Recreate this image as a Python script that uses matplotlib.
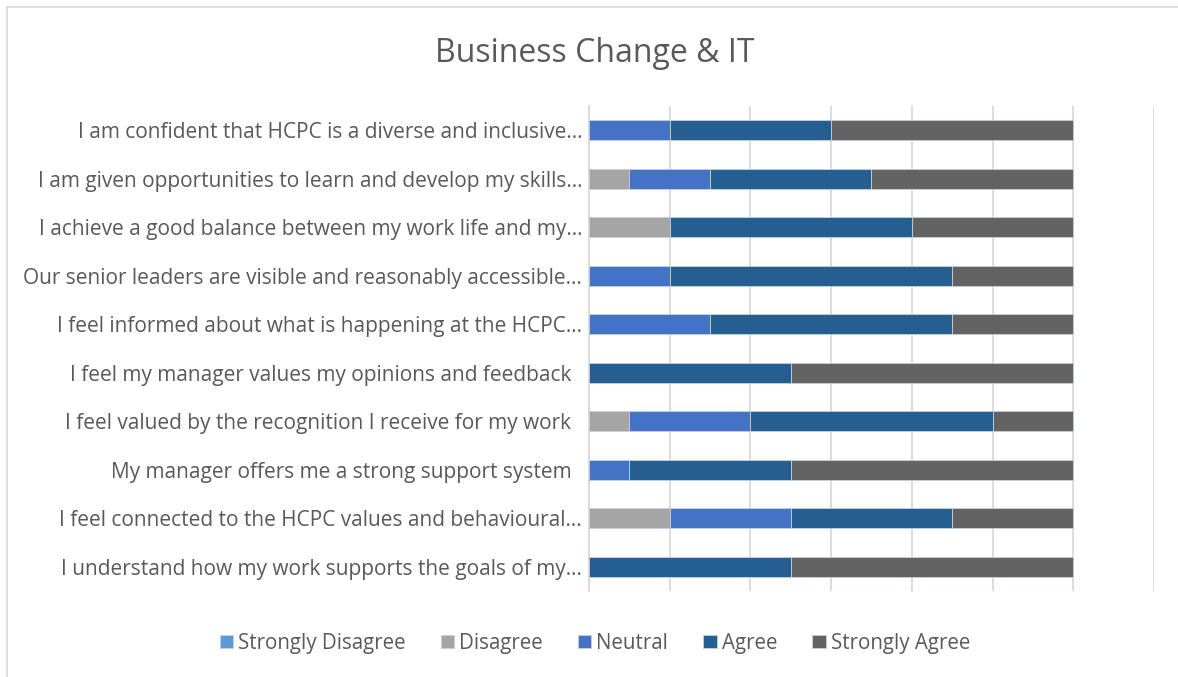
import numpy as np
import matplotlib.pyplot as plt
from matplotlib.lines import Line2D

plt.rcParams["font.family"] = ["Open Sans", "DejaVu Sans"]

statements = [
    "I am confident that HCPC is a diverse and inclusive…",
    "I am given opportunities to learn and develop my skills…",
    "I achieve a good balance between my work life and my…",
    "Our senior leaders are visible and reasonably accessible…",
    "I feel informed about what is happening at the HCPC…",
    "I feel my manager values my opinions and feedback  ",
    "I feel valued by the recognition I receive for my work  ",
    "My manager offers me a strong support system  ",
    "I feel connected to the HCPC values and behavioural…",
    "I understand how my work supports the goals of my…",
]

responses = ["Strongly Disagree", "Disagree", "Neutral", "Agree", "Strongly Agree"]
colors = ["#5B9BD5", "#A5A5A5", "#4472C4", "#255E91", "#636363"]

strongly_disagree = [0, 0, 0, 0, 0, 0, 0, 0, 0, 0]
disagree          = [0, 1, 2, 0, 0, 0, 1, 0, 2, 0]
neutral           = [2, 2, 0, 2, 3, 0, 3, 1, 3, 0]
agree             = [4, 4, 6, 7, 6, 5, 6, 4, 4, 5]
strongly_agree    = [6, 5, 4, 3, 3, 7, 2, 7, 3, 7]

series = [strongly_disagree, disagree, neutral, agree, strongly_agree]
text_col = "#595959"

fig = plt.figure(figsize=(11.78, 6.77), dpi=100)
ax = fig.add_axes([0.5, 0.127, 0.4796, 0.7164])

y = np.arange(len(statements))
left = np.zeros(len(statements))
for name, vals, c in zip(responses, series, colors):
    vals = np.array(vals, dtype=float)
    ax.barh(y, vals, left=left, height=0.42, color=c, label=name,
            edgecolor="#c8d0da", linewidth=0.6, zorder=3)
    left += vals

ax.set_xlim(0, 14)
ax.set_ylim(len(statements) - 0.5, -0.5)
ax.set_xticks(np.arange(0, 15, 2))
ax.set_xticklabels([])
ax.tick_params(axis="x", length=0)
ax.tick_params(axis="y", length=0, pad=5)
ax.set_yticks(y)
ax.set_yticklabels(statements, fontsize=15, color=text_col)
ax.grid(axis="x", color="#D9D9D9", linewidth=1.3, zorder=0)
for s in ["top", "right", "bottom"]:
    ax.spines[s].set_visible(False)
ax.spines["left"].set_color("#D9D9D9")
ax.spines["left"].set_linewidth(1.3)

fig.suptitle("Business Change & IT", x=0.505, y=0.945, fontsize=23, color=text_col)

handles, labels = ax.get_legend_handles_labels()
leg = fig.legend(handles, labels, loc="center", bbox_to_anchor=(0.505, 0.05), ncol=5,
                 frameon=False, fontsize=14.8, handlelength=0.65, handleheight=0.65,
                 handletextpad=0.25, columnspacing=1.7, labelcolor=text_col)

bx, by = 7 / 1178, 1 - 7 / 677
fig.add_artist(Line2D([bx, bx], [0, by], transform=fig.transFigure, color="#D9D9D9", lw=1.2))
fig.add_artist(Line2D([bx, 1], [by, by], transform=fig.transFigure, color="#D9D9D9", lw=1.2))

fig.savefig("out.png", dpi=100)
